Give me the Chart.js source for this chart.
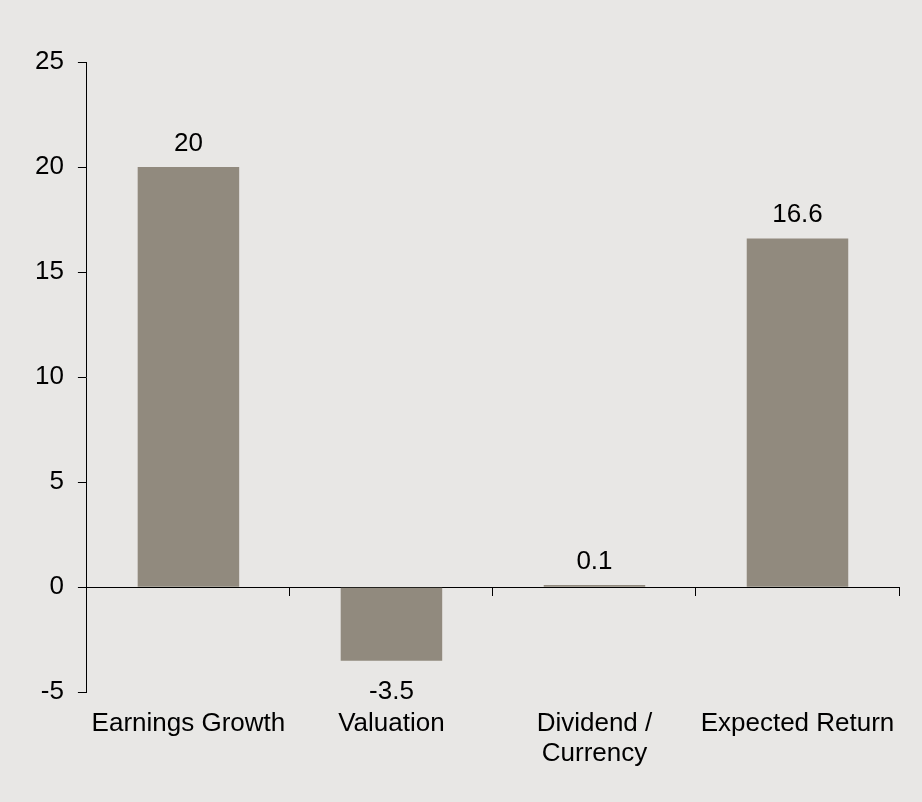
<!DOCTYPE html>
<html>
<head>
<meta charset="utf-8">
<title>Expected Return Breakdown</title>
<script src="https://cdn.jsdelivr.net/npm/chart.js@4.4.1/dist/chart.umd.min.js"></script>
<style>
  html, body { margin: 0; padding: 0; background: #e8e7e5; }
  #returnChart { display: block; background: #e8e7e5; }
</style>
</head>
<body>
<canvas id="returnChart" width="922" height="802"></canvas>
<script>
// Return components (%)
var categories = ["Earnings Growth", "Valuation", ["Dividend /", "Currency"], "Expected Return"];
var values = [20, -3.5, 0.1, 16.6];
var yTicks = [-5, 0, 5, 10, 15, 20, 25];

var barColor = "#918a7e";
var fontFamily = "'Liberation Sans', Arial, sans-serif";

// Writes each value above (or below, for negatives) its bar
var valueLabels = {
  id: "valueLabels",
  afterDatasetsDraw: function (chart) {
    var ctx = chart.ctx;
    var meta = chart.getDatasetMeta(0);
    ctx.save();
    ctx.font = "26px " + fontFamily;
    ctx.fillStyle = "#000";
    ctx.textAlign = "center";
    ctx.textBaseline = "alphabetic";
    meta.data.forEach(function (bar, i) {
      var v = values[i];
      var y = v >= 0 ? bar.y - 16 : bar.y + 38;
      ctx.fillText(String(v), bar.x, y);
    });
    ctx.restore();
  }
};

var ctx = document.getElementById("returnChart").getContext("2d");
var chart = new Chart(ctx, {
  type: "bar",
  data: {
    labels: categories,
    datasets: [{
      data: values,
      backgroundColor: barColor,
      borderWidth: 0,
      barPercentage: 0.5,
      categoryPercentage: 1.0,
      xAxisID: "x",
      yAxisID: "y"
    }]
  },
  options: {
    responsive: false,
    animation: false,
    layout: { padding: { top: 62, left: 21, right: 23, bottom: 16 } },
    plugins: {
      legend: { display: false },
      tooltip: { enabled: false }
    },
    scales: {
      // axis line through zero with tick marks between categories
      x: {
        type: "category",
        position: { y: 0 },
        offset: true,
        z: 1,
        grid: {
          offset: true,
          drawOnChartArea: false,
          drawTicks: true,
          tickLength: 8,
          color: "#000",
          lineWidth: 1
        },
        border: { display: true, color: "#000", width: 1 },
        ticks: { display: false }
      },
      // category names along the bottom
      xl: {
        type: "category",
        position: "bottom",
        offset: true,
        grid: { display: false, drawTicks: false },
        border: { display: false },
        ticks: {
          color: "#000",
          padding: 17,
          maxRotation: 0,
          autoSkip: false,
          font: { family: fontFamily, size: 26, lineHeight: 1.15 }
        }
      },
      y: {
        min: -5,
        max: 25,
        afterBuildTicks: function (scale) {
          scale.ticks = yTicks.map(function (v) { return { value: v }; });
        },
        grid: {
          drawOnChartArea: false,
          drawTicks: true,
          tickLength: 9,
          color: "#000",
          lineWidth: 1
        },
        border: { display: true, color: "#000", width: 1 },
        ticks: {
          color: "#000",
          padding: 14,
          font: { family: fontFamily, size: 26 }
        }
      }
    }
  },
  plugins: [valueLabels]
});
</script>
</body>
</html>
